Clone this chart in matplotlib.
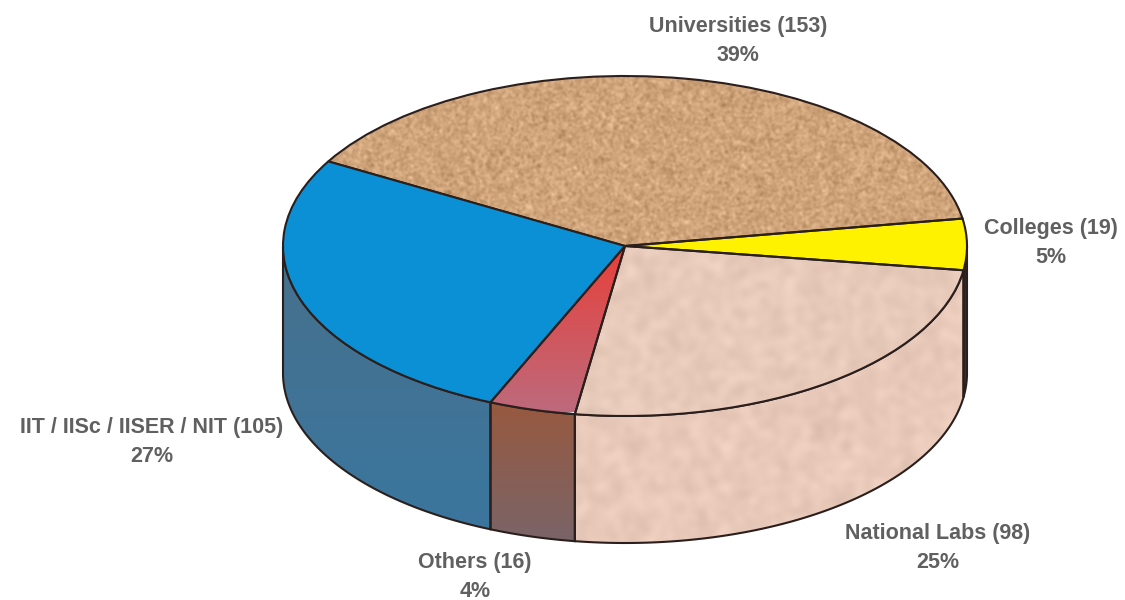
import numpy as np
import matplotlib
matplotlib.use('Agg')
import matplotlib.pyplot as plt
from matplotlib.patches import Polygon
from matplotlib.transforms import Affine2D
from matplotlib.colors import to_rgb

plt.rcParams['font.family'] = ['Liberation Sans', 'DejaVu Sans']

# values, counter-clockwise from the right hand edge of the pie
names = ['Colleges', 'Universities', 'IIT / IISc / IISER / NIT', 'Others', 'National Labs']
counts = [19, 153, 105, 16, 98]
percents = [5, 39, 27, 4, 25]

top_colors = ['#fff200', '#cfa47a', '#0b90d6', '#d9635c', '#e8cabb']
side_top = ['#2c2626', '#000000', '#47708c', '#98593f', '#e9c9ba']
side_bottom = ['#3a3434', '#000000', '#3b769e', '#7a6468', '#e6c6b8']

label_xy = [(1051, 243), (738, 41), (152, 442), (475, 577), (938, 548)]

cx, cy, rx, ry, depth = 625, 246, 342, 170, 127
start_angle = -8.2

fig = plt.figure(figsize=(11.25, 6), dpi=100)
ax = fig.add_axes([0, 0, 1, 1])

wedges, _ = ax.pie(counts, colors=top_colors, startangle=start_angle, counterclock=True,
                   wedgeprops=dict(edgecolor='#2a1f1c', linewidth=1.5))
ax.set_aspect('auto')
ax.set_xlim(0, 1125)
ax.set_ylim(600, 0)
ax.axis('off')

top_tf = Affine2D().scale(rx, -ry).translate(cx, cy) + ax.transData
for w in wedges:
    w.set_transform(top_tf)
    w.set_zorder(4)
    w.set_clip_on(False)


def gradient(c1, c2, n=64):
    c1, c2 = np.array(to_rgb(c1)), np.array(to_rgb(c2))
    f = np.linspace(0, 1, n)[:, None, None]
    return c1[None, None, :] * (1 - f) + c2[None, None, :] * f


def speckle(color, amount, blur, seed):
    # paper-like texture for the fill, not data
    rng = np.random.default_rng(seed)
    h, w = 600, 1125
    noise = rng.normal(size=(h, w))
    fy = np.fft.fftfreq(h)[:, None]
    fx = np.fft.rfftfreq(w)[None, :]
    noise = np.fft.irfft2(np.fft.rfft2(noise) * np.exp(-(fx ** 2 + fy ** 2) * (2 * np.pi * blur) ** 2 / 2), s=(h, w))
    noise = noise / noise.std()
    img = np.array(to_rgb(color))[None, None, :] + noise[:, :, None] * amount
    return np.clip(img, 0, 1)


# side walls, only the front half of the pie shows them
edges = start_angle + np.cumsum([0] + counts) / sum(counts) * 360
for i in range(len(counts)):
    a0, a1 = edges[i], edges[i + 1]
    spans = []
    for lo, hi in [(-180, 0), (180, 360)]:
        if max(a0, lo) < min(a1, hi):
            spans.append((max(a0, lo), min(a1, hi)))
    for lo, hi in spans:
        t = np.radians(np.linspace(lo, hi, 120))
        x = cx + rx * np.cos(t)
        y = cy - ry * np.sin(t)
        pts = np.r_[np.c_[x, y], np.c_[x, y + depth][::-1]]
        poly = Polygon(pts, closed=True, facecolor='none', edgecolor='#2a1f1c', linewidth=1.5, zorder=3)
        ax.add_patch(poly)
        y0, y1 = pts[:, 1].min(), pts[:, 1].max()
        im = ax.imshow(gradient(side_top[i], side_bottom[i]), extent=(x.min(), x.max(), y1, y0),
                       aspect='auto', zorder=2, interpolation='bilinear')
        im.set_clip_path(poly)
        if names[i] == 'National Labs':
            tex = ax.imshow(speckle(side_top[i], 0.012, 4, 3), extent=(0, 1125, 600, 0),
                            aspect='auto', zorder=2.5)
            tex.set_clip_path(poly)

# textured tops
tex = ax.imshow(speckle(top_colors[1], 0.032, 1.2, 1), extent=(0, 1125, 600, 0), aspect='auto', zorder=3.5)
tex.set_clip_path(wedges[1])
wedges[1].set_facecolor('none')

tex = ax.imshow(speckle(top_colors[4], 0.012, 4, 2), extent=(0, 1125, 600, 0), aspect='auto', zorder=3.5)
tex.set_clip_path(wedges[4])
wedges[4].set_facecolor('none')

grad = ax.imshow(gradient('#e8403a', '#bd6a7c'), extent=(490, 630, 412, 246), aspect='auto',
                 zorder=3.5, interpolation='bilinear')
grad.set_clip_path(wedges[3])
wedges[3].set_facecolor('none')

for name, n, p, (lx, ly) in zip(names, counts, percents, label_xy):
    ax.text(lx, ly, f'{name} ({n})\n{p}%', ha='center', va='center', fontsize=15.5,
            fontweight='bold', color='#606060', linespacing=1.5, zorder=5)

ax.set_xlim(0, 1125)
ax.set_ylim(600, 0)
fig.savefig('out.png', dpi=100, facecolor='white')
